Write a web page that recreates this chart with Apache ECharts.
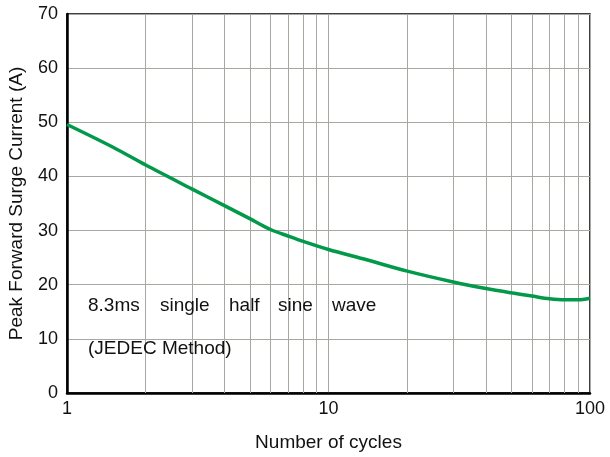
<!DOCTYPE html>
<html>
<head>
<meta charset="utf-8">
<script src="https://cdn.jsdelivr.net/npm/echarts@6/dist/echarts.min.js"></script>
<style>html,body{margin:0;padding:0;background:#fff}#c{width:610px;height:457px}</style>
</head>
<body>
<div id="c"></div>
<script>
var cycles = [1, 1.5, 2, 3, 4, 5, 6, 7, 8, 10, 14, 20, 30, 40, 50, 60, 70, 80, 90, 100];
var current = [49.6, 45.4, 42.1, 37.7, 34.6, 32.2, 30.2, 29.0, 28.0, 26.5, 24.6, 22.5, 20.5, 19.3, 18.5, 17.9, 17.4, 17.2, 17.2, 17.5];
var minorGrid = [2, 3, 4, 5, 6, 7, 8, 9, 20, 30, 40, 50, 60, 70, 80, 90];
var yTicks = [0, 10, 20, 30, 40, 50, 60, 70];
var xTickLabels = ['1', '10', '100'];
var noteWords = [['8.3ms', 88], ['single', 160], ['half', 229], ['sine', 278], ['wave', 332]];
var noteLine2 = '(JEDEC Method)';

var FONT = '"Liberation Sans", Arial, sans-serif';
var GRID = '#a8a8a2';

var chart = echarts.init(document.getElementById('c'), null, {renderer: 'canvas'});
var graphics = noteWords.map(function (w) {
  return {type: 'text', x: w[1], y: 306, style: {text: w[0], fill: '#111', font: '19px ' + FONT, verticalAlign: 'middle'}, z: 10};
});
graphics.push({type: 'text', x: 88, y: 349, style: {text: noteLine2, fill: '#111', font: '19px ' + FONT, verticalAlign: 'middle'}, z: 10});

chart.setOption({
  animation: false,
  backgroundColor: '#fff',
  grid: {left: 67, right: 20, top: 14, bottom: 64, containLabel: false, outerBoundsMode: 'none',
    show: true, borderColor: '#000', borderWidth: 1.5, backgroundColor: 'transparent'},
  xAxis: {
    type: 'log', logBase: 10, min: 1, max: 100,
    name: 'Number of cycles', nameLocation: 'middle', nameGap: 40,
    nameTextStyle: {fontFamily: FONT, fontSize: 19, color: '#111'},
    axisLine: {show: true, lineStyle: {color: '#000', width: 2.5}},
    axisTick: {show: false},
    axisLabel: {fontFamily: FONT, fontSize: 18, color: '#111', margin: 7,
      formatter: function (v) { var s = String(Math.round(v)); return xTickLabels.indexOf(s) >= 0 ? s : ''; }},
    splitLine: {show: true, lineStyle: {color: GRID, width: 1}},
    minorTick: {show: false}, minorSplitLine: {show: false}
  },
  yAxis: {
    type: 'value', min: yTicks[0], max: yTicks[yTicks.length - 1], interval: 10,
    name: 'Peak Forward Surge Current (A)', nameLocation: 'middle', nameGap: 41,
    nameTextStyle: {fontFamily: FONT, fontSize: 19, color: '#111'},
    axisLine: {show: true, lineStyle: {color: '#000', width: 2.5}},
    axisTick: {show: false},
    axisLabel: {fontFamily: FONT, fontSize: 18, color: '#111', margin: 9},
    splitLine: {show: true, lineStyle: {color: GRID, width: 1}}
  },
  graphic: graphics,
  series: [{
    type: 'line',
    data: cycles.map(function (c, i) { return [c, current[i]]; }),
    smooth: 0.3,
    symbol: 'none',
    lineStyle: {color: '#03994a', width: 3.5},
    z: 5,
    markLine: {
      silent: true, symbol: 'none', label: {show: false}, animation: false,
      lineStyle: {color: GRID, width: 1, type: 'solid'},
      emphasis: {disabled: true},
      data: minorGrid.map(function (v) { return {xAxis: v}; }),
      z: 1
    }
  }]
});
</script>
</body>
</html>
